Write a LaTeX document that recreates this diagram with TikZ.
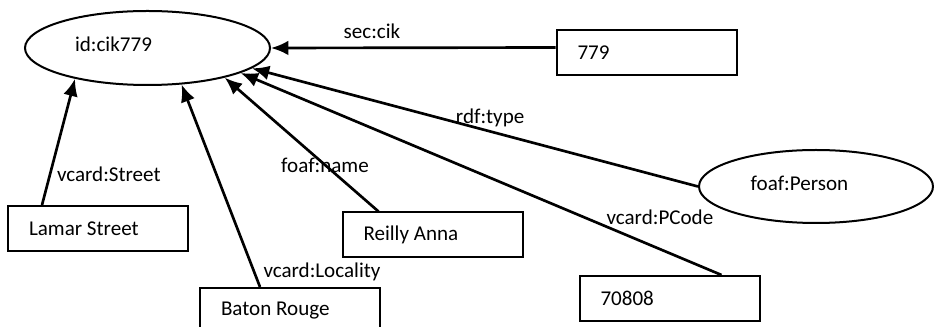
\documentclass[tikz,border=0pt]{standalone}
\usepackage{fontspec}
\setmainfont{Carlito}
\usetikzlibrary{arrows.meta, shapes.geometric, calc}

\begin{document}
\begin{tikzpicture}[
    x=0.75pt, y=-0.75pt,
    font=\fontsize{15.8pt}{19pt}\selectfont,
    resource/.style={
        ellipse,
        draw,
        line width=1.5pt
    },
    literal/.style={
        rectangle,
        draw,
        line width=1.5pt,
        minimum width=135pt,
        minimum height=33.75pt,
        text width=103.5pt,
        inner xsep=15.75pt,
        align=left,
        execute at begin node={\spaceskip=0pt\relax}
    },
    prop/.style={inner sep=0pt},
    arrow/.style={-{Latex[length=13pt, width=11pt]}, line width=2pt}
]
\useasboundingbox (0,0) rectangle (934,327);

% resources
\node[resource, minimum width=183.75pt, minimum height=55.5pt,
      label={[xshift=-25.5pt, yshift=3pt]center:id:cik779}] (cik_res) at (147.5,48) {};
\node[resource, minimum width=175.5pt, minimum height=54.75pt,
      label={[xshift=-12.4pt, yshift=2.6pt]center:foaf:Person}] (person_res) at (816,186.5) {};

% literals
\node[literal] (cik_lit) at (646.5,53) {779};
\node[literal] (street_lit) at (98,228.5) {Lamar Street};
\node[literal] (name_lit) at (432.5,235) {Reilly Anna};
\node[literal] (code_lit) at (669.5,298.5) {70808};
\node[literal] (city_lit) at (290,310.5) {Baton Rouge};

\draw[arrow] ($(cik_lit.north west)+(0,18)$) -- node[prop, pos=0.645, yshift=12.75pt] {sec:cik} (cik_res.east);
\draw[arrow] ($(street_lit.north west)+(35,0)$) -- node[prop, pos=0.246, anchor=west, xshift=4.2pt] {vcard:Street} (cik_res.203.3);
\draw[arrow] ($(city_lit.north west)+(61,0)$) -- node[prop, pos=0.074, anchor=west, xshift=6pt] {vcard:Locality} (cik_res.-47.7);
\draw[arrow] ($(name_lit.north west)+(37,0)$) -- node[prop, pos=0.348] {foaf:name} (cik_res.-21.9);
\draw[arrow] ($(code_lit.north west)+(143,0)$) -- node[prop, pos=0.128, yshift=24pt] {vcard:PCode} (cik_res.-15.4);
\draw[arrow] (person_res.west) -- node[prop, pos=0.466, yshift=10pt] {rdf:type} (cik_res.-11.9);

\end{tikzpicture}
\end{document}
